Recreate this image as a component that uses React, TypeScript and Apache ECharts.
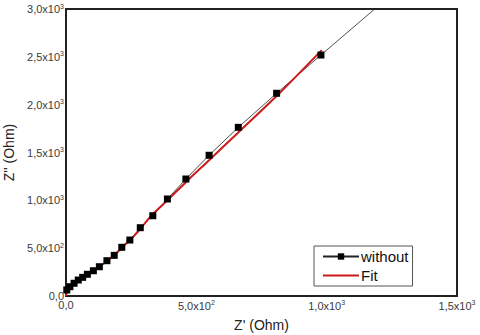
import React, { useEffect, useRef } from "react";
import * as echarts from "echarts";

const withoutX = [3, 15, 31, 47, 64, 82, 105, 128, 157, 185, 214, 245, 285, 333, 389, 460, 549, 661, 808, 978, 1210];
const withoutY = [63, 97, 133, 167, 195, 227, 264, 306, 369, 425, 509, 585, 714, 839, 1014, 1223, 1471, 1763, 2119, 2519, 3060];
const fitX = [0, 2, 6, 15, 30, 47, 64, 82, 105, 128, 157, 185, 214, 245, 285, 322, 389, 460, 549, 661, 808, 981];
const fitY = [0, 30, 60, 95, 132, 165, 195, 226, 264, 305, 365, 425, 505, 585, 700, 825, 1000, 1190, 1420, 1710, 2090, 2570];
const xTickLabels: Record<number, [string, string]> = { 0: ["0,0", ""], 500: ["5,0x10", "2"], 1000: ["1,0x10", "3"], 1500: ["1,5x10", "3"] };
const yTickLabels: Record<number, [string, string]> = {
  0: ["0,0", ""], 500: ["5,0x10", "2"], 1000: ["1,0x10", "3"], 1500: ["1,5x10", "3"],
  2000: ["2,0x10", "3"], 2500: ["2,5x10", "3"], 3000: ["3,0x10", "3"],
};

const FONT = "'Liberation Sans', Arial, sans-serif";

function fmt(table: Record<number, [string, string]>) {
  return (v: number) => {
    const t = table[Math.round(v)];
    if (!t) return "";
    return t[1] ? `{a|${t[0]}}{b|${t[1]}}` : `{a|${t[0]}}`;
  };
}

const rich = {
  a: { fontSize: 11, color: "#3a3a3a", fontFamily: FONT },
  b: { fontSize: 7, color: "#3a3a3a", fontFamily: FONT, verticalAlign: "top" as const, padding: [0, 0, 6, 0] },
};

export default function App() {
  const ref = useRef<HTMLDivElement>(null);
  useEffect(() => {
    document.body.style.margin = "0";
    const chart = echarts.init(ref.current!, undefined, { renderer: "svg" });
    const withoutData = withoutX.map((x, i) =>
      i === withoutX.length - 1 ? { value: [x, withoutY[i]], symbol: "none" } : [x, withoutY[i]]
    );
    const fitData = fitX.map((x, i) => [x, fitY[i]]);
    chart.setOption({
      animation: false,
      backgroundColor: "#fff",
      textStyle: { fontFamily: FONT },
      grid: {
        left: 66, right: 23, top: 9, bottom: 39,
        outerBoundsMode: "none",
        containLabel: false,
        show: true, borderColor: "#222", borderWidth: 2, backgroundColor: "transparent",
      },
      legend: {
        orient: "vertical",
        left: 314,
        top: 246,
        padding: [3, 4, 3, 8],
        itemGap: 4,
        itemWidth: 36,
        itemHeight: 8,
        borderColor: "#555",
        borderWidth: 1,
        backgroundColor: "#fff",
        textStyle: { fontSize: 15, color: "#111", fontFamily: FONT, padding: [0, 0, 0, -3] },
        data: [
          { name: "without" },
          { name: "Fit", icon: "path://M0,0H36V2.2H0Z" },
        ],
      },
      xAxis: {
        type: "value",
        min: 0,
        max: 1500,
        interval: 500,
        name: "Z' (Ohm)",
        nameLocation: "middle",
        nameGap: 22,
        nameMoveOverlap: false,
        nameTextStyle: { fontSize: 14, color: "#222", fontFamily: FONT },
        axisLine: { show: true, onZero: false, lineStyle: { color: "#222", width: 2 } },
        axisTick: { show: false },
        splitLine: { show: false },
        axisLabel: { margin: 3, formatter: fmt(xTickLabels), rich },
      },
      yAxis: {
        type: "value",
        min: 0,
        max: 3000,
        interval: 500,
        name: "Z'' (Ohm)",
        nameLocation: "middle",
        nameGap: 50,
        nameMoveOverlap: false,
        nameRotate: 90,
        nameTextStyle: { fontSize: 14, color: "#222", fontFamily: FONT },
        axisLine: { show: true, onZero: false, lineStyle: { color: "#222", width: 2 } },
        axisTick: { show: false },
        splitLine: { show: false },
        axisLabel: { margin: 2, formatter: fmt(yTickLabels), rich },
      },
      series: [
        {
          name: "without",
          type: "line",
          data: withoutData,
          symbol: "rect",
          symbolSize: 7,
          clip: true,
          lineStyle: { color: "#222", width: 0.8 },
          itemStyle: { color: "#000" },
        },
        {
          name: "Fit",
          type: "line",
          data: fitData,
          symbol: "none",
          smooth: 0.3,
          clip: true,
          lineStyle: { color: "#cc1a1a", width: 2 },
          itemStyle: { color: "#cc1a1a" },
        },
      ],
    });
    return () => chart.dispose();
  }, []);
  return <div ref={ref} style={{ width: 480, height: 335 }} />;
}
